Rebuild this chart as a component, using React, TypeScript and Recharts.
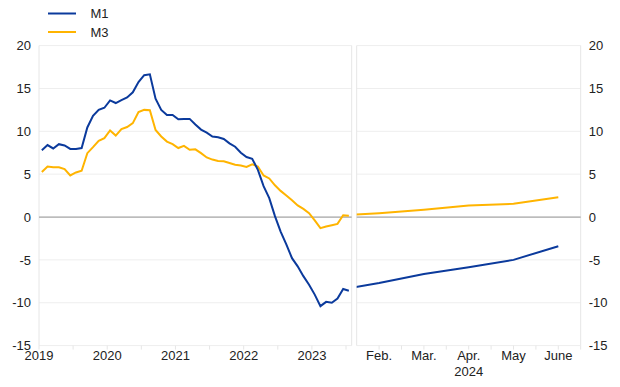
import React from 'react';
import { LineChart, Line, XAxis, YAxis, CartesianGrid, ReferenceLine } from 'recharts';

// Monthly observations, Jul 2019 - Jan 2024
const monthLabels: string[] = [
  '2019-07','2019-08','2019-09','2019-10','2019-11','2019-12',
  '2020-01','2020-02','2020-03','2020-04','2020-05','2020-06','2020-07','2020-08','2020-09','2020-10','2020-11','2020-12',
  '2021-01','2021-02','2021-03','2021-04','2021-05','2021-06','2021-07','2021-08','2021-09','2021-10','2021-11','2021-12',
  '2022-01','2022-02','2022-03','2022-04','2022-05','2022-06','2022-07','2022-08','2022-09','2022-10','2022-11','2022-12',
  '2023-01','2023-02','2023-03','2023-04','2023-05','2023-06','2023-07','2023-08','2023-09','2023-10','2023-11','2023-12',
  '2024-01',
];
const m1Values: number[] = [
  7.8, 8.4, 8.0, 8.5, 8.35, 7.95,
  7.95, 8.05, 10.45, 11.8, 12.5, 12.75, 13.6, 13.3, 13.65, 13.95, 14.55, 15.75,
  16.55, 16.65, 13.8, 12.5, 11.9, 11.9, 11.4, 11.45, 11.45, 10.8, 10.2, 9.85,
  9.4, 9.3, 9.1, 8.6, 8.2, 7.5, 7.0, 6.8, 5.5, 3.6, 2.2, 0.1,
  -1.7, -3.2, -4.8, -5.75, -6.9, -7.9, -9.05, -10.4, -9.9, -10.0, -9.5, -8.4,
  -8.6,
];
const m3Values: number[] = [
  5.25, 5.9, 5.8, 5.8, 5.6, 4.85,
  5.2, 5.4, 7.45, 8.15, 8.9, 9.2, 10.1, 9.5, 10.25, 10.5, 10.95, 12.25,
  12.5, 12.45, 10.15, 9.4, 8.8, 8.5, 8.05, 8.3, 7.85, 7.9, 7.45, 6.95,
  6.7, 6.55, 6.5, 6.3, 6.1, 6.0, 5.85, 6.15, 5.9, 4.85, 4.5, 3.7,
  3.05, 2.5, 1.95, 1.35, 0.95, 0.45, -0.4, -1.3, -1.1, -0.95, -0.8, 0.2,
  0.15,
];
const yearLabels: string[] = ['2019', '2020', '2021', '2022', '2023'];

// 2024 panel, Jan - June
const projMonths: string[] = ['Jan.', 'Feb.', 'Mar.', 'Apr.', 'May', 'June'];
const m1Proj: number[] = [-8.6, -7.7, -6.65, -5.85, -5.0, -3.4];
const m3Proj: number[] = [0.15, 0.45, 0.85, 1.35, 1.55, 2.3];
const projYear = '2024';

const yTicks: number[] = [-15, -10, -5, 0, 5, 10, 15, 20];

const BLUE = '#0b3a9c';
const YELLOW = '#ffb400';
const FONT = '"Liberation Sans", Arial, Helvetica, sans-serif';
const TEXT = '#222';

const leftData = monthLabels.map((m, i) => ({ i, month: m, m1: m1Values[i], m3: m3Values[i] }));
const rightData = projMonths.map((m, i) => ({ i: i + 1, month: m, m1: m1Proj[i], m3: m3Proj[i] }));

// year labels sit at July boundaries; minor ticks at January boundaries
const leftTicks: number[] = [];
for (let k = 0; k < 10; k++) leftTicks.push(-0.5 + 6 * k);
const leftTickFmt = (v: number) => {
  const k = Math.round((v + 0.5) / 12);
  if (Math.abs(v + 0.5 - 12 * k) < 0.01 && k < yearLabels.length) return yearLabels[k];
  return '';
};

const rightTicks: number[] = [2, 2.5, 3, 3.5, 4, 4.5, 5, 5.5, 6, 6.5];

const RightTick = (props: any) => {
  const { x, y, payload } = props;
  const v = payload.value;
  if (Math.abs(v - Math.round(v)) > 0.01) return null;
  const label = projMonths[Math.round(v) - 1];
  return (
    <text x={x} y={y} textAnchor="middle" fill={TEXT} fontSize={13} fontFamily={FONT}>
      <tspan x={x} dy="0.71em">{label}</tspan>
      {label === 'Apr.' ? <tspan x={x} dy={16.5}>{projYear}</tspan> : null}
    </text>
  );
};

const tickStyle = { fill: TEXT, fontSize: 13, fontFamily: FONT };

export default function App() {
  return (
    <div style={{ position: 'absolute', left: 0, top: 0, width: 620, height: 387, background: '#fff', fontFamily: FONT }}>
      <div style={{ position: 'absolute', left: 0, top: 0 }}>
        <LineChart width={360} height={387} data={leftData} margin={{ top: 45.6, right: 8.3, bottom: 11.4, left: 0 }}>
          <CartesianGrid vertical={false} stroke="#eeeeee" />
          <XAxis
            dataKey="i"
            type="number"
            domain={[-0.5, 54.5]}
            ticks={leftTicks}
            interval={0}
            tickFormatter={leftTickFmt}
            height={30}
            axisLine={false}
            tickLine={{ stroke: '#e6e6e6' }}
            tickSize={4}
            tickMargin={1}
            tick={tickStyle}
          />
          <YAxis
            domain={[-15, 20]}
            ticks={yTicks}
            interval={0}
            width={39}
            axisLine={false}
            tickLine={false}
            tick={tickStyle}
          />
          <ReferenceLine x={-0.5} stroke="#e6e6e6" />
          <ReferenceLine x={54.5} stroke="#e6e6e6" />
          <ReferenceLine y={0} stroke="#a8a8a8" strokeWidth={1.2} />
          <Line type="linear" dataKey="m3" stroke={YELLOW} strokeWidth={2} dot={false} isAnimationActive={false} />
          <Line type="linear" dataKey="m1" stroke={BLUE} strokeWidth={2} dot={false} isAnimationActive={false} />
        </LineChart>
      </div>
      <div style={{ position: 'absolute', left: 340, top: 0 }}>
        <LineChart width={280} height={387} data={rightData} margin={{ top: 45.6, right: 0, bottom: 11.4, left: 16.7 }}>
          <CartesianGrid vertical={false} stroke="#eeeeee" />
          <XAxis
            dataKey="i"
            type="number"
            domain={[1.5, 6.5]}
            allowDataOverflow
            ticks={rightTicks}
            interval={0}
            height={30}
            axisLine={false}
            tickLine={{ stroke: '#e6e6e6' }}
            tickSize={4}
            tickMargin={1}
            tick={<RightTick />}
          />
          <YAxis
            orientation="right"
            domain={[-15, 20]}
            ticks={yTicks}
            interval={0}
            width={39.3}
            axisLine={false}
            tickLine={false}
            tick={tickStyle}
          />
          <ReferenceLine x={1.5} stroke="#e6e6e6" />
          <ReferenceLine x={6.5} stroke="#e6e6e6" />
          <ReferenceLine y={0} stroke="#a8a8a8" strokeWidth={1.2} />
          <Line type="linear" dataKey="m3" stroke={YELLOW} strokeWidth={2} dot={false} isAnimationActive={false} />
          <Line type="linear" dataKey="m1" stroke={BLUE} strokeWidth={2} dot={false} isAnimationActive={false} />
        </LineChart>
      </div>
      <svg width={200} height={45} style={{ position: 'absolute', left: 0, top: 0 }}>
        <line x1={48} x2={76} y1={13.5} y2={13.5} stroke={BLUE} strokeWidth={2} />
        <text x={90.5} y={13.5} dy="0.35em" fontSize={13} fontFamily={FONT} fill={TEXT}>M1</text>
        <line x1={48} x2={76} y1={32} y2={32} stroke={YELLOW} strokeWidth={2} />
        <text x={90.5} y={32} dy="0.35em" fontSize={13} fontFamily={FONT} fill={TEXT}>M3</text>
      </svg>
    </div>
  );
}
